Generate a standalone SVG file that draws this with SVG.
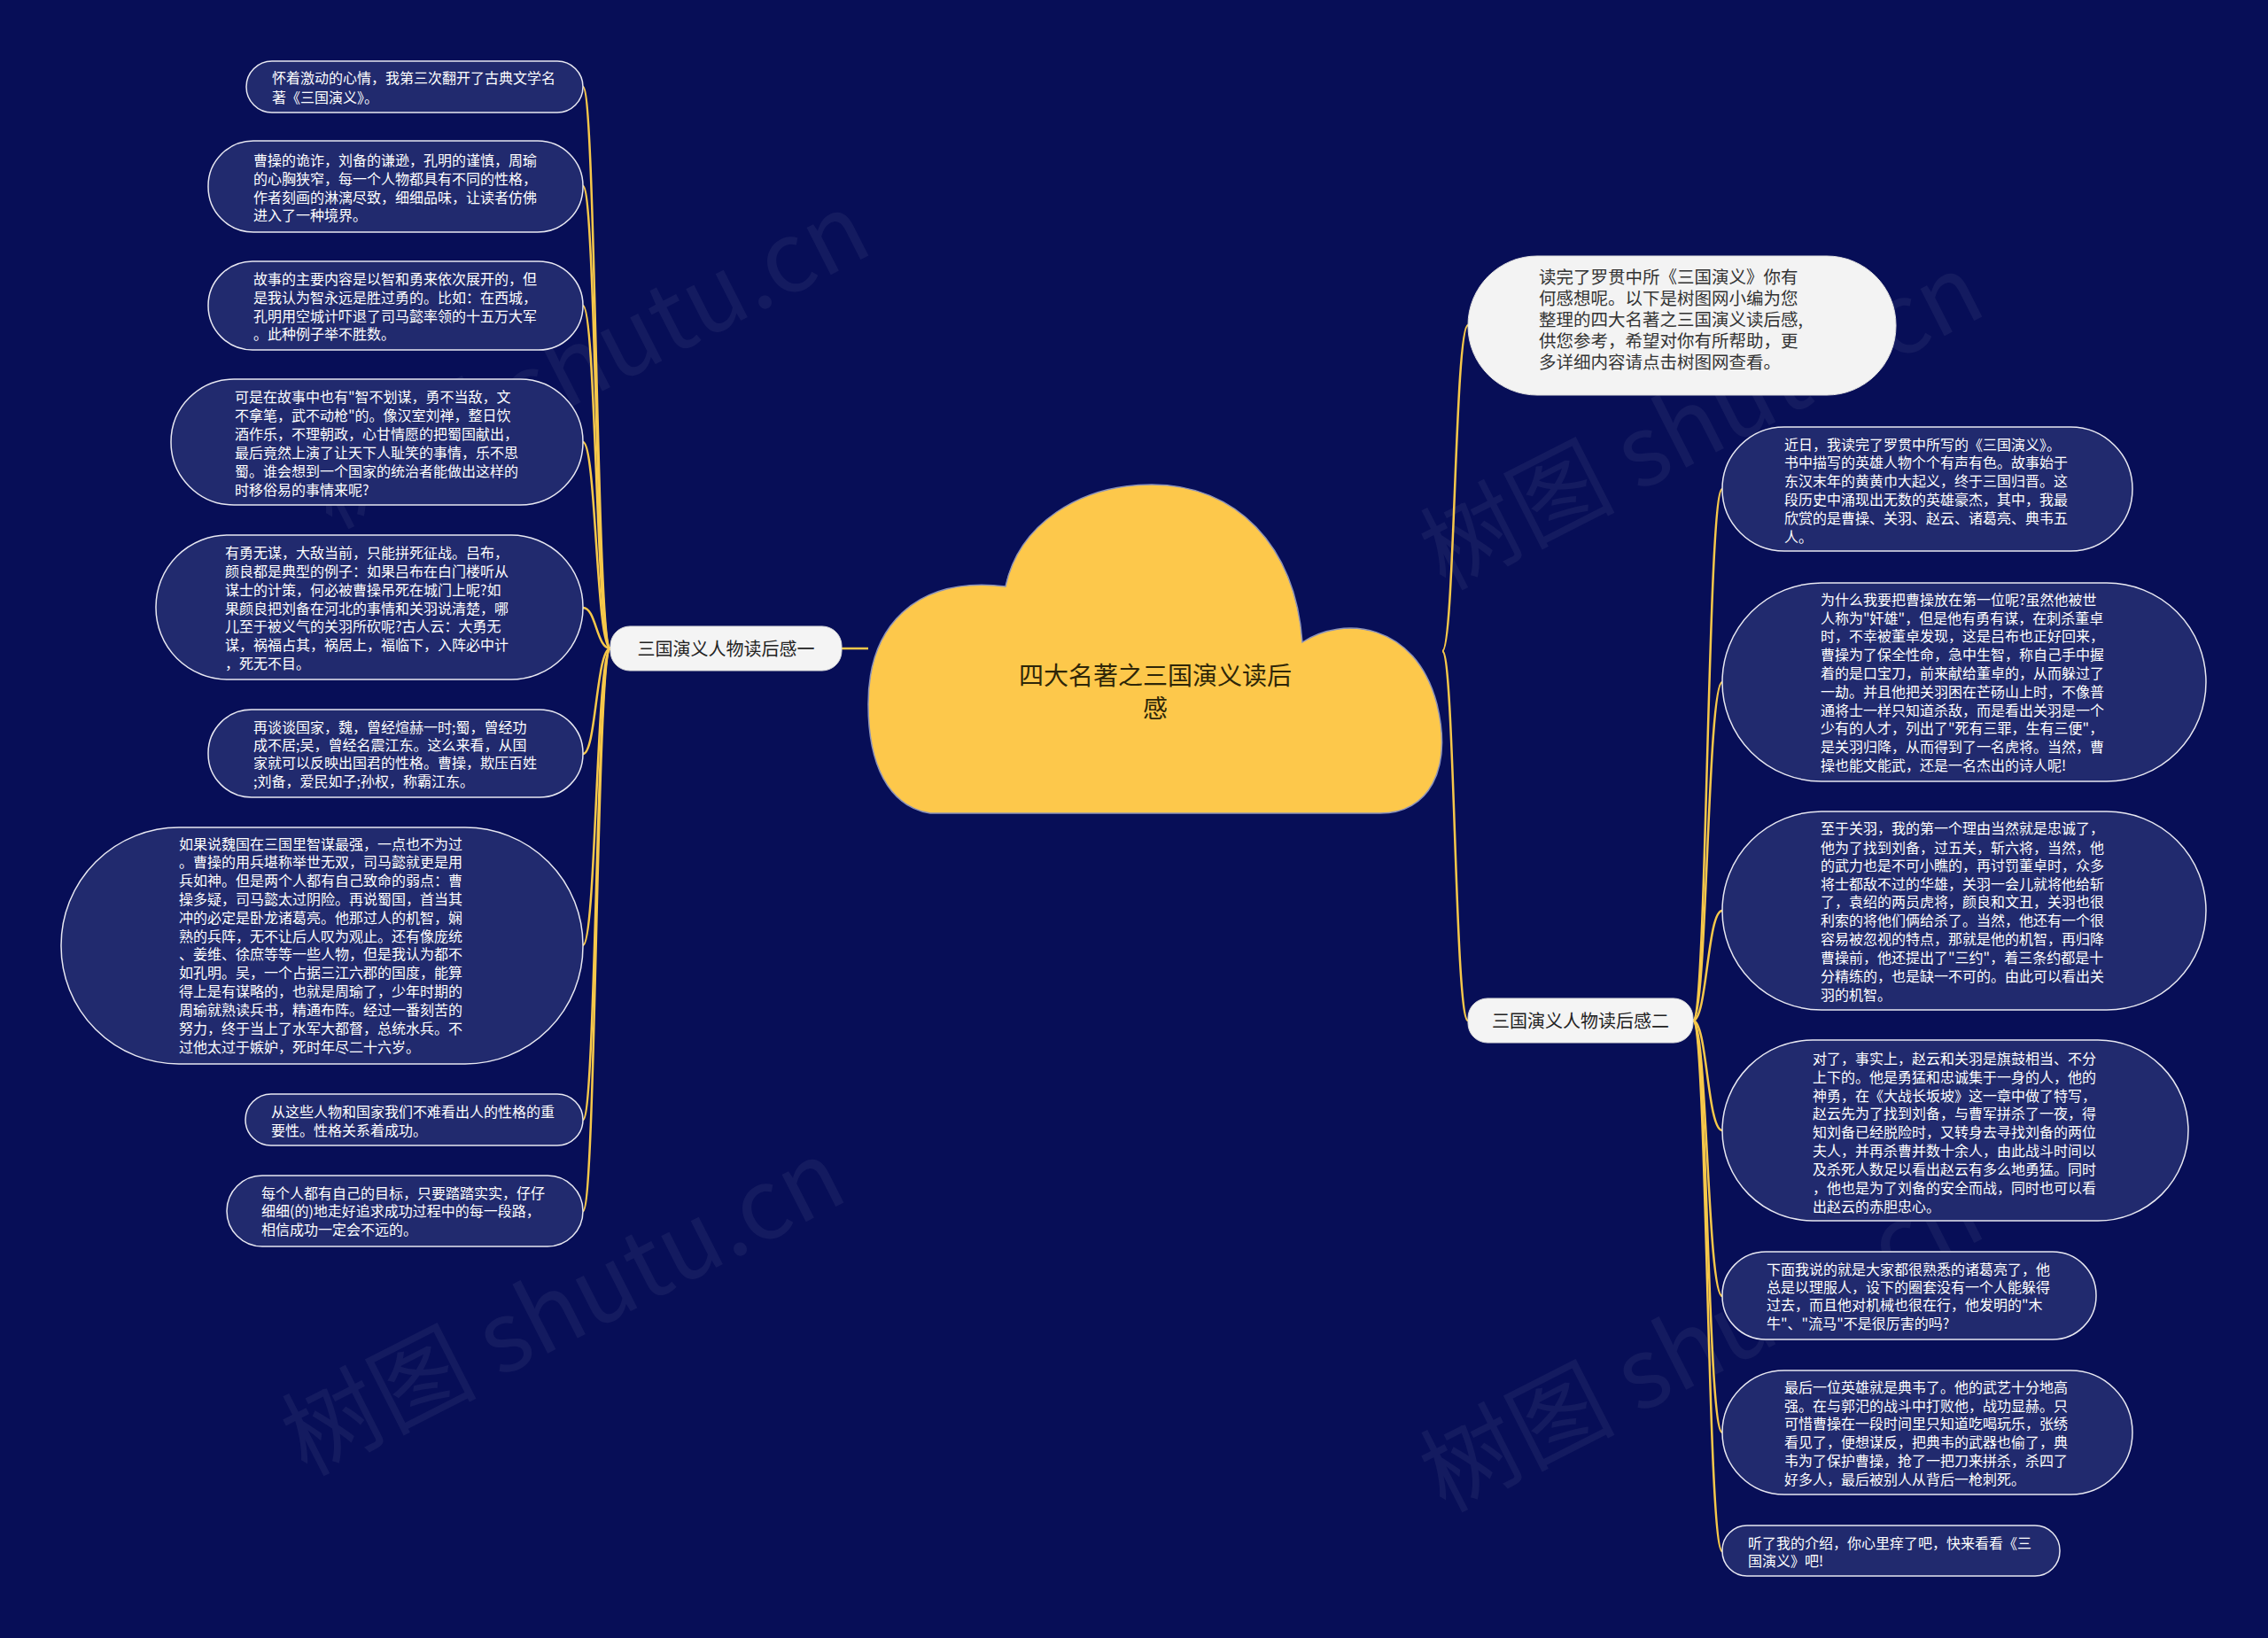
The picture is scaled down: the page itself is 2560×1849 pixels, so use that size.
<svg xmlns="http://www.w3.org/2000/svg" width="2560" height="1849" viewBox="0 0 2560 1849">
<style>
.bg{fill:#070e57}
.leaf rect{fill:#212a6e;stroke:#e8e8f2;stroke-width:1.5}
.leaf text{fill:#ffffff;font-family:"Noto Sans CJK SC","Noto Sans",sans-serif;font-size:16px}
.branch rect{fill:#f4f4f4;stroke:#dcdcdc;stroke-width:1}
.branch text{fill:#222222;font-family:"Noto Sans CJK SC","Noto Sans",sans-serif;font-size:20px}
.intro rect{fill:#f3f3f3;stroke:#e0e0e0;stroke-width:1}
.intro text{fill:#333333;font-family:"Noto Sans CJK SC","Noto Sans",sans-serif;font-size:19.5px}
.conn path{fill:none;stroke:#f7c84a;stroke-width:2.5}
.wm text{fill:#ffffff;opacity:0.05;font-family:"Noto Sans CJK SC","Noto Sans",sans-serif;font-size:110px}
</style>
<rect class="bg" x="0" y="0" width="2560" height="1849"/>

<g class="wm">
<text x="681" y="441" text-anchor="middle" transform="rotate(-27 681 441)">树图 shutu.cn</text>
<text x="653" y="1510" text-anchor="middle" transform="rotate(-27 653 1510)">树图 shutu.cn</text>
<text x="1938" y="510" text-anchor="middle" transform="rotate(-27 1938 510)">树图 shutu.cn</text>
<text x="1938" y="1551" text-anchor="middle" transform="rotate(-27 1938 1551)">树图 shutu.cn</text>
</g>

<g id="connectors" class="conn">
<path d="M980 732 L950 732"/>
<path d="M1628 735 C1642 735 1642 367 1657 367"/>
<path d="M1628 735 C1642 735 1642 1152 1657 1152"/>
<path d="M689 732 C673 732 673 98 658 98"/>
<path d="M689 732 C673 732 673 210 658 210"/>
<path d="M689 732 C673 732 673 345 658 345"/>
<path d="M689 732 C673 732 673 499 658 499"/>
<path d="M689 732 C673 732 673 686 658 686"/>
<path d="M689 732 C673 732 673 851 658 851"/>
<path d="M689 732 C673 732 673 1067 658 1067"/>
<path d="M689 732 C673 732 673 1264 658 1264"/>
<path d="M689 732 C673 732 673 1367 658 1367"/>
<path d="M1911 1152 C1927 1152 1927 552 1944 552"/>
<path d="M1911 1152 C1927 1152 1927 770 1944 770"/>
<path d="M1911 1152 C1927 1152 1927 1028 1944 1028"/>
<path d="M1911 1152 C1927 1152 1927 1276 1944 1276"/>
<path d="M1911 1152 C1927 1152 1927 1463 1944 1463"/>
<path d="M1911 1152 C1927 1152 1927 1617 1944 1617"/>
<path d="M1911 1152 C1927 1152 1927 1751 1944 1751"/>
</g>

<g id="center">
<path d="M1050 918 C1002 910 980 862 980 795 C980 705 1035 650 1135 662 C1150 592 1218 547 1300 547 C1395 547 1462 615 1470 725 C1515 695 1598 702 1622 795 C1640 870 1612 918 1558 918 Z" fill="#fdc84b" stroke="#8d93b8" stroke-width="1.5"/>
<text x="1304" y="773" text-anchor="middle" font-family="Noto Sans CJK SC, Noto Sans, sans-serif" font-size="28" fill="#2e2608">四大名著之三国演义读后</text>
<text x="1304" y="810" text-anchor="middle" font-family="Noto Sans CJK SC, Noto Sans, sans-serif" font-size="28" fill="#2e2608">感</text>
</g>

<g id="branch1" class="branch">
<rect x="689" y="707" width="261" height="50" rx="22" ry="22"/>
<text x="819.5" y="739.5" text-anchor="middle">三国演义人物读后感一</text>
</g>

<g id="branch2" class="branch">
<rect x="1657" y="1127" width="254" height="50" rx="22" ry="22"/>
<text x="1784" y="1159.5" text-anchor="middle">三国演义人物读后感二</text>
</g>

<g id="intro" class="intro">
<rect x="1657" y="289" width="483" height="157" rx="78" ry="78"/>
<text x="1737" y="320">读完了罗贯中所《三国演义》你有</text>
<text x="1737" y="344">何感想呢。以下是树图网小编为您</text>
<text x="1737" y="368">整理的四大名著之三国演义读后感,</text>
<text x="1737" y="392">供您参考，希望对你有所帮助，更</text>
<text x="1737" y="416">多详细内容请点击树图网查看。</text>
</g>

<g id="L1" class="leaf">
<rect x="278" y="69" width="380" height="58" rx="29" ry="29"/>
<text x="307" y="94">怀着激动的心情，我第三次翻开了古典文学名</text>
<text x="307" y="116">著《三国演义》。</text>
</g>

<g id="L2" class="leaf">
<rect x="235" y="159" width="423" height="103" rx="51" ry="51"/>
<text x="286" y="187">曹操的诡诈，刘备的谦逊，孔明的谨慎，周瑜</text>
<text x="286" y="208">的心胸狭窄，每一个人物都具有不同的性格，</text>
<text x="286" y="229">作者刻画的淋漓尽致，细细品味，让读者仿佛</text>
<text x="286" y="249">进入了一种境界。</text>
</g>

<g id="L3" class="leaf">
<rect x="235" y="295" width="423" height="100" rx="50" ry="50"/>
<text x="286" y="321">故事的主要内容是以智和勇来依次展开的，但</text>
<text x="286" y="342">是我认为智永远是胜过勇的。比如：在西城，</text>
<text x="286" y="363">孔明用空城计吓退了司马懿率领的十五万大军</text>
<text x="286" y="383">。此种例子举不胜数。</text>
</g>

<g id="L4" class="leaf">
<rect x="193" y="428" width="465" height="142" rx="71" ry="71"/>
<text x="265" y="454">可是在故事中也有"智不划谋，勇不当敌，文</text>
<text x="265" y="475">不拿笔，武不动枪"的。像汉室刘禅，整日饮</text>
<text x="265" y="496">酒作乐，不理朝政，心甘情愿的把蜀国献出，</text>
<text x="265" y="517">最后竟然上演了让天下人耻笑的事情，乐不思</text>
<text x="265" y="538">蜀。谁会想到一个国家的统治者能做出这样的</text>
<text x="265" y="559">时移俗易的事情来呢?</text>
</g>

<g id="L5" class="leaf">
<rect x="176" y="604" width="482" height="163" rx="81" ry="81"/>
<text x="254" y="630">有勇无谋，大敌当前，只能拼死征战。吕布，</text>
<text x="254" y="651">颜良都是典型的例子：如果吕布在白门楼听从</text>
<text x="254" y="672">谋士的计策，何必被曹操吊死在城门上呢?如</text>
<text x="254" y="693">果颜良把刘备在河北的事情和关羽说清楚，哪</text>
<text x="254" y="713">儿至于被义气的关羽所砍呢?古人云：大勇无</text>
<text x="254" y="734">谋，祸福占其，祸居上，福临下，入阵必中计</text>
<text x="254" y="755">，死无不目。</text>
</g>

<g id="L6" class="leaf">
<rect x="235" y="801" width="423" height="99" rx="49" ry="49"/>
<text x="286" y="827">再谈谈国家，魏，曾经煊赫一时;蜀，曾经功</text>
<text x="286" y="847">成不居;吴，曾经名震江东。这么来看，从国</text>
<text x="286" y="867">家就可以反映出国君的性格。曹操，欺压百姓</text>
<text x="286" y="888">;刘备，爱民如子;孙权，称霸江东。</text>
</g>

<g id="L7" class="leaf">
<rect x="69" y="934" width="589" height="267" rx="133" ry="133"/>
<text x="202" y="959">如果说魏国在三国里智谋最强，一点也不为过</text>
<text x="202" y="979">。曹操的用兵堪称举世无双，司马懿就更是用</text>
<text x="202" y="1000">兵如神。但是两个人都有自己致命的弱点：曹</text>
<text x="202" y="1021">操多疑，司马懿太过阴险。再说蜀国，首当其</text>
<text x="202" y="1042">冲的必定是卧龙诸葛亮。他那过人的机智，娴</text>
<text x="202" y="1063">熟的兵阵，无不让后人叹为观止。还有像庞统</text>
<text x="202" y="1083">、姜维、徐庶等等一些人物，但是我认为都不</text>
<text x="202" y="1104">如孔明。吴，一个占据三江六郡的国度，能算</text>
<text x="202" y="1125">得上是有谋略的，也就是周瑜了，少年时期的</text>
<text x="202" y="1146">周瑜就熟读兵书，精通布阵。经过一番刻苦的</text>
<text x="202" y="1167">努力，终于当上了水军大都督，总统水兵。不</text>
<text x="202" y="1188">过他太过于嫉妒，死时年尽二十六岁。</text>
</g>

<g id="L8" class="leaf">
<rect x="277" y="1235" width="381" height="58" rx="29" ry="29"/>
<text x="306" y="1261">从这些人物和国家我们不难看出人的性格的重</text>
<text x="306" y="1282">要性。性格关系着成功。</text>
</g>

<g id="L9" class="leaf">
<rect x="256" y="1327" width="402" height="80" rx="40" ry="40"/>
<text x="295" y="1353">每个人都有自己的目标，只要踏踏实实，仔仔</text>
<text x="295" y="1373">细细(的)地走好追求成功过程中的每一段路，</text>
<text x="295" y="1394">相信成功一定会不远的。</text>
</g>

<g id="R1" class="leaf">
<rect x="1944" y="482" width="463" height="140" rx="70" ry="70"/>
<text x="2014" y="508">近日，我读完了罗贯中所写的《三国演义》。</text>
<text x="2014" y="528">书中描写的英雄人物个个有声有色。故事始于</text>
<text x="2014" y="549">东汉末年的黄黄巾大起义，终于三国归晋。这</text>
<text x="2014" y="570">段历史中涌现出无数的英雄豪杰，其中，我最</text>
<text x="2014" y="591">欣赏的是曹操、关羽、赵云、诸葛亮、典韦五</text>
<text x="2014" y="612">人。</text>
</g>

<g id="R2" class="leaf">
<rect x="1944" y="658" width="546" height="224" rx="112" ry="112"/>
<text x="2055" y="683">为什么我要把曹操放在第一位呢?虽然他被世</text>
<text x="2055" y="704">人称为"奸雄"，但是他有勇有谋，在刺杀董卓</text>
<text x="2055" y="724">时，不幸被董卓发现，这是吕布也正好回来，</text>
<text x="2055" y="745">曹操为了保全性命，急中生智，称自己手中握</text>
<text x="2055" y="766">着的是口宝刀，前来献给董卓的，从而躲过了</text>
<text x="2055" y="787">一劫。并且他把关羽困在芒砀山上时，不像普</text>
<text x="2055" y="808">通将士一样只知道杀敌，而是看出关羽是一个</text>
<text x="2055" y="828">少有的人才，列出了"死有三罪，生有三便"，</text>
<text x="2055" y="849">是关羽归降，从而得到了一名虎将。当然，曹</text>
<text x="2055" y="870">操也能文能武，还是一名杰出的诗人呢!</text>
</g>

<g id="R3" class="leaf">
<rect x="1944" y="916" width="546" height="224" rx="112" ry="112"/>
<text x="2055" y="941">至于关羽，我的第一个理由当然就是忠诚了，</text>
<text x="2055" y="963">他为了找到刘备，过五关，斩六将，当然，他</text>
<text x="2055" y="983">的武力也是不可小瞧的，再讨罚董卓时，众多</text>
<text x="2055" y="1004">将士都敌不过的华雄，关羽一会儿就将他给斩</text>
<text x="2055" y="1024">了，袁绍的两员虎将，颜良和文丑，关羽也很</text>
<text x="2055" y="1045">利索的将他们俩给杀了。当然，他还有一个很</text>
<text x="2055" y="1066">容易被忽视的特点，那就是他的机智，再归降</text>
<text x="2055" y="1087">曹操前，他还提出了"三约"，着三条约都是十</text>
<text x="2055" y="1108">分精练的，也是缺一不可的。由此可以看出关</text>
<text x="2055" y="1129">羽的机智。</text>
</g>

<g id="R4" class="leaf">
<rect x="1944" y="1174" width="526" height="204" rx="102" ry="102"/>
<text x="2046" y="1201">对了，事实上，赵云和关羽是旗鼓相当、不分</text>
<text x="2046" y="1222">上下的。他是勇猛和忠诚集于一身的人，他的</text>
<text x="2046" y="1243">神勇，在《大战长坂坡》这一章中做了特写，</text>
<text x="2046" y="1263">赵云先为了找到刘备，与曹军拼杀了一夜，得</text>
<text x="2046" y="1284">知刘备已经脱险时，又转身去寻找刘备的两位</text>
<text x="2046" y="1305">夫人，并再杀曹并数十余人，由此战斗时间以</text>
<text x="2046" y="1326">及杀死人数足以看出赵云有多么地勇猛。同时</text>
<text x="2046" y="1347">，他也是为了刘备的安全而战，同时也可以看</text>
<text x="2046" y="1368">出赵云的赤胆忠心。</text>
</g>

<g id="R5" class="leaf">
<rect x="1944" y="1413" width="422" height="99" rx="49" ry="49"/>
<text x="1994" y="1439">下面我说的就是大家都很熟悉的诸葛亮了，他</text>
<text x="1994" y="1459">总是以理服人，设下的圈套没有一个人能躲得</text>
<text x="1994" y="1479">过去，而且他对机械也很在行，他发明的"木</text>
<text x="1994" y="1500">牛"、"流马"不是很厉害的吗?</text>
</g>

<g id="R6" class="leaf">
<rect x="1944" y="1547" width="463" height="140" rx="70" ry="70"/>
<text x="2014" y="1572">最后一位英雄就是典韦了。他的武艺十分地高</text>
<text x="2014" y="1593">强。在与郭汜的战斗中打败他，战功显赫。只</text>
<text x="2014" y="1613">可惜曹操在一段时间里只知道吃喝玩乐，张绣</text>
<text x="2014" y="1634">看见了，便想谋反，把典韦的武器也偷了，典</text>
<text x="2014" y="1655">韦为了保护曹操，抢了一把刀来拼杀，杀四了</text>
<text x="2014" y="1676">好多人，最后被别人从背后一枪刺死。</text>
</g>

<g id="R7" class="leaf">
<rect x="1944" y="1722" width="381" height="57" rx="28" ry="28"/>
<text x="1973" y="1748">听了我的介绍，你心里痒了吧，快来看看《三</text>
<text x="1973" y="1768">国演义》吧!</text>
</g>
</svg>
